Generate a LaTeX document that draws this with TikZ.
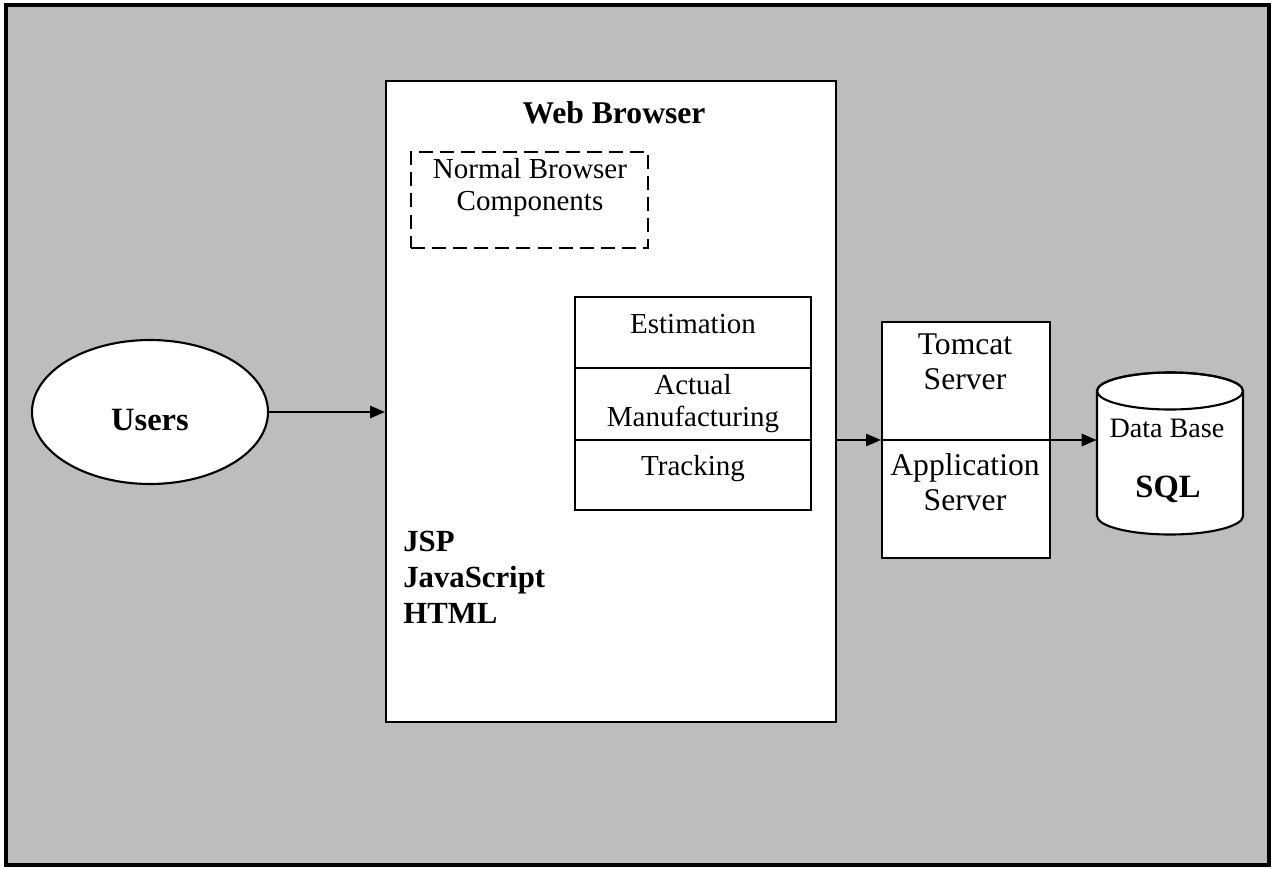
\documentclass[tikz,border=0pt]{standalone}
\usepackage{fontspec}
\setmainfont{Liberation Serif}
\usetikzlibrary{positioning,fit,shapes.geometric,arrows.meta}

\tikzset{
  box/.style={draw, line width=1.2pt, fill=white, inner sep=0pt},
  dashbox/.style={draw, line width=1.2pt, dash pattern=on 8pt off 4pt, inner sep=0pt},
  link/.style={line width=1.1pt, -{Triangle[length=8.5pt,width=7pt]}},
  txt/.style={font=\fontsize{16.5}{18.2}\selectfont, align=center, inner sep=0pt},
  bigtxt/.style={font=\fontsize{18}{20}\selectfont, align=center, inner sep=0pt},
  headtxt/.style={font=\bfseries\fontsize{18}{20.5}\selectfont, inner sep=0pt},
}

\begin{document}
\begin{tikzpicture}[x=0.02cm, y=-0.02cm]
  \useasboundingbox (0,0) rectangle (1275,869);
  % frame with grey backdrop
  \draw[line width=1.8pt, fill=black!26] (6,5) rectangle (1269,865);

  % users
  \node[ellipse, box, minimum width=4.72cm, minimum height=2.88cm] (users) at (150,412) {};
  \node[font=\bfseries\fontsize{18.5}{19}\selectfont, anchor=base, inner sep=0pt] (userstxt) at (150,430) {Users};

  % browser
  \node[box, fit={(386,81) (836,722)}] (browser) {};
  \node[headtxt, anchor=base] (browsertxt) at (614,123) {Web Browser};
  \node[dashbox, fit={(411,152) (648,248)}] (normal) {};
  \node[txt] (normaltxt) at (530,188) {Normal Browser\\Components};

  % modules inside the browser
  \node[box, fit={(575,297) (811,368)}] (est) {};
  \node[box, fit={(575,368) (811,440)}] (manu) {};
  \node[box, fit={(575,440) (811,510)}] (track) {};
  \node[txt, anchor=base] (esttxt) at (693,333) {Estimation};
  \node[txt] (manutxt) at (693,404) {Actual\\Manufacturing};
  \node[txt, anchor=base] (tracktxt) at (693,475) {Tracking};

  \node[headtxt, font=\bfseries\fontsize{17.5}{20.5}\selectfont, align=left, anchor=north west]
    (techtxt) at (403,531) {JSP\\JavaScript\\HTML};

  % server
  \node[box, fit={(882,322) (1050,558)}] (tomcat) {};
  \draw[line width=1.2pt] (tomcat.west) -- (tomcat.east);
  \node[bigtxt] (tomcattxt) at (965,362) {Tomcat\\Server};
  \node[bigtxt] (apptxt) at (965,482) {Application\\Server};

  % database drum
  \node[inner sep=0pt, fit={(1097,373) (1243,535)}] (db) {};
  \draw[line width=1.2pt, fill=white] (1097,391) -- (1097,516) arc (180:0:73 and 18.5)
    -- (1243,391) arc (0:-180:73 and 18.5) -- cycle;
  \draw[line width=1.2pt] (1170,391) ellipse (73 and 18.5);
  \node[txt, font=\fontsize{16}{17}\selectfont, anchor=base] (dbtxt) at (1167,437) {Data Base};
  \node[font=\bfseries\fontsize{18.5}{20}\selectfont, anchor=base, inner sep=0pt] (sqltxt) at (1168,497) {SQL};

  % connectors
  \draw[link] (users.east) -- (users.east -| browser.west);
  \draw[link] (browser.east |- tomcat.center) -- (tomcat.west);
  \draw[link] (tomcat.east) -- (db.west |- tomcat.east);
\end{tikzpicture}
\end{document}
